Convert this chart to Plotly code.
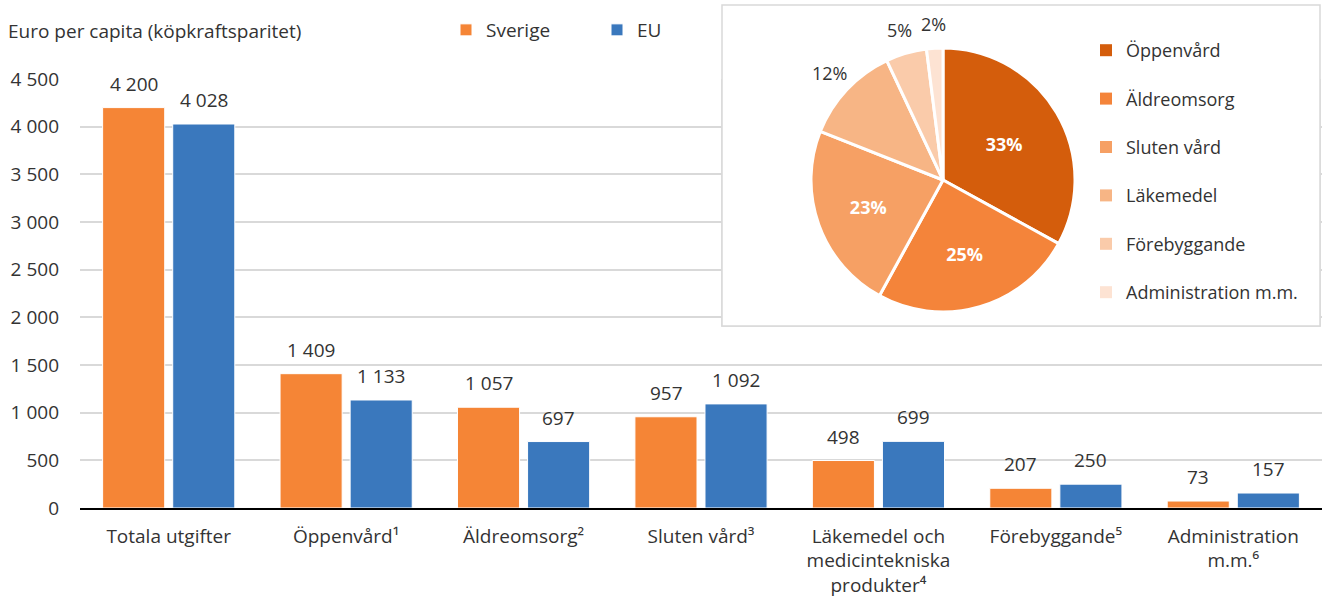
import math
import plotly.graph_objects as go

# ---------------- data ----------------
categories = [
    "Totala utgifter",
    "Öppenvård¹",
    "Äldreomsorg²",
    "Sluten vård³",
    "Läkemedel och<br>medicintekniska<br>produkter⁴",
    "Förebyggande⁵",
    "Administration<br>m.m.⁶",
]
sverige = [4200, 1409, 1057, 957, 498, 207, 73]
eu = [4028, 1133, 697, 1092, 699, 250, 157]

pie_labels = ["Öppenvård", "Äldreomsorg", "Sluten vård", "Läkemedel",
              "Förebyggande", "Administration m.m."]
pie_shares = [33, 25, 23, 12, 5, 2]

y_ticks = [0, 500, 1000, 1500, 2000, 2500, 3000, 3500, 4000, 4500]
y_ticklabels = ["0", "500", "1 000", "1 500", "2 000", "2 500", "3 000",
                "3 500", "4 000", "4 500"]

# ---------------- styles ----------------
FONT = "Open Sans"
FS = 19
TXT = "#333333"
C_SE = "#F58536"
C_EU = "#3A78BD"
PIE_COLORS = ["#D45D0C", "#F4843A", "#F6A064", "#F7B585", "#FACBAA", "#FDE3D3"]

W, H = 1322, 597
ML, MR, MT, MB = 80, 0, 0, 89
PW, PH = W - ML - MR, H - MT - MB
AX_TOP = 79  # pixel y of 4500
ydom_top = (H - MB - AX_TOP) / PH
NCAT = len(categories)
CATW = PW / NCAT


def fmt(v):
    return f"{v:,}".replace(",", " ")


def px_to_paper(xp, yp):
    return (xp - ML) / PW, (H - MB - yp) / PH


fig = go.Figure()
fig.add_trace(go.Bar(x=categories, y=sverige, name="Sverige",
                     marker=dict(color=C_SE, line=dict(color="white", width=1)),
                     legend="legend"))
fig.add_trace(go.Bar(x=categories, y=eu, name="EU",
                     marker=dict(color=C_EU, line=dict(color="white", width=1)),
                     legend="legend"))

annotations = []
for i, (vs, ve) in enumerate(zip(sverige, eu)):
    for v, dx in ((vs, -35), (ve, 35)):
        annotations.append(dict(x=i, y=v, xref="x", yref="y", text=fmt(v),
                                showarrow=False, xshift=dx, yshift=9,
                                yanchor="bottom",
                                font=dict(family=FONT, size=FS, color=TXT)))

# pie
cx, cy, r = 943, 180, 132
px0, py1 = px_to_paper(cx - r, cy - r)
px1, py0 = px_to_paper(cx + r, cy + r)
pie_text = [f"<b>{s}%</b>" if s >= 20 else "" for s in pie_shares]
fig.add_trace(go.Pie(
    labels=pie_labels, values=pie_shares, sort=False, direction="clockwise",
    rotation=0, text=pie_text, textinfo="text",
    textposition=["inside" if s >= 20 else "none" for s in pie_shares],
    insidetextorientation="horizontal",
    textfont=dict(family=FONT, size=18, color="white"),
    marker=dict(colors=PIE_COLORS, line=dict(color="white", width=3)),
    domain=dict(x=[px0, px1], y=[py0, py1]),
    showlegend=False, hoverinfo="label+percent",
))

# outside labels of the small slices, placed at each slice's mid-angle
total = sum(pie_shares)
cum = 0
for s in pie_shares:
    mid = (cum + s / 2) / total * 2 * math.pi
    cum += s
    if s >= 20:
        continue
    d = r + 24
    lx, ly = px_to_paper(cx + d * math.sin(mid), cy - d * math.cos(mid))
    annotations.append(dict(x=lx, y=ly, xref="paper", yref="paper",
                            text=f"{s}%", showarrow=False,
                            xanchor="center", yanchor="middle",
                            font=dict(family=FONT, size=18, color=TXT)))

# pie legend entries (one per group so spacing can be set)
for lab, col in zip(pie_labels, PIE_COLORS):
    fig.add_trace(go.Scatter(x=[None], y=[None], mode="markers", name=lab,
                             marker=dict(symbol="square", size=12, color=col),
                             legend="legend2", legendgroup=lab,
                             showlegend=True, hoverinfo="skip"))

bx0, by1 = px_to_paper(722, 5)
bx1, by0 = px_to_paper(1320, 326)
# box region in data coordinates (to hide gridlines inside it)
dx0 = (722 - ML) / CATW - 0.5
dx1 = (1320 - ML) / CATW - 0.5
dy0 = 4500 * (H - MB - 326) / (H - MB - AX_TOP)

fig.update_layout(
    width=W, height=H,
    margin=dict(l=ML, r=MR, t=MT, b=MB, autoexpand=False),
    paper_bgcolor="white", plot_bgcolor="white",
    font=dict(family=FONT, size=FS, color=TXT),
    separators=", ",
    barmode="group", bargap=0.21, bargroupgap=0.114,
    title=dict(text="Euro per capita (köpkraftsparitet)", x=8 / W, xanchor="left",
               y=1 - 31 / H, yanchor="middle", xref="container", yref="container",
               font=dict(family=FONT, size=FS, color=TXT)),
    xaxis=dict(range=[-0.5, NCAT - 0.5], showgrid=False, showline=True,
               linecolor="#000000", linewidth=1.5, automargin=False,
               ticks="", ticklabelstandoff=10, tickfont=dict(size=FS, color=TXT),
               fixedrange=True),
    yaxis=dict(domain=[0, ydom_top], range=[0, 4500], tickvals=y_ticks,
               ticktext=y_ticklabels, showgrid=True, gridcolor="#D9D9D9",
               gridwidth=1.5, zeroline=False, showline=False, ticks="",
               automargin=False, fixedrange=True,
               ticklabelstandoff=20, tickfont=dict(size=FS, color=TXT)),
    legend=dict(orientation="h", x=(446 - ML) / PW, y=(H - MB - 11) / PH,
                xanchor="left", yanchor="top", entrywidth=106,
                entrywidthmode="pixels", font=dict(size=FS, color=TXT),
                bgcolor="rgba(0,0,0,0)"),
    legend2=dict(orientation="v", x=(1086 - ML) / PW, y=(H - MB - 32) / PH,
                 xanchor="left", yanchor="top", tracegroupgap=22,
                 font=dict(size=18, color=TXT), bgcolor="rgba(0,0,0,0)"),
    annotations=annotations,
    shapes=[
        dict(type="rect", xref="paper", yref="paper", layer="below",
             x0=bx0, x1=bx1, y0=by0, y1=by1,
             fillcolor="white", line=dict(color="#D9D9D9", width=1.5)),
        dict(type="rect", xref="x", yref="y", layer="between",
             x0=dx0, x1=dx1, y0=dy0, y1=5000,
             fillcolor="white", line=dict(color="#D9D9D9", width=1.5)),
    ],
)

fig.write_html("out.html", config={"displayModeBar": False},
               post_script="document.body.style.margin='0';")
